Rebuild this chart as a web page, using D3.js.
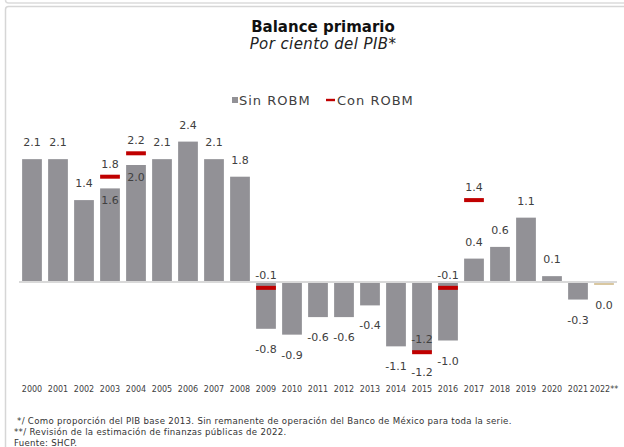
<!DOCTYPE html>
<html>
<head>
<meta charset="utf-8">
<script src="https://cdn.jsdelivr.net/npm/d3@7"></script>
<style>
  body { margin: 0; background: #fff; }
  svg { display: block; font-family: "DejaVu Sans", sans-serif; }
</style>
</head>
<body>
<svg id="chart" width="624" height="447"></svg>
<script>
// Primary balance, percent of GDP
const years = ["2000","2001","2002","2003","2004","2005","2006","2007","2008","2009","2010",
  "2011","2012","2013","2014","2015","2016","2017","2018","2019","2020","2021","2022**"];
// Without Banco de México operating surplus (bars)
const sinRobm = [2.1, 2.1, 1.4, 1.6, 2.0, 2.1, 2.4, 2.1, 1.8, -0.8, -0.9,
  -0.6, -0.6, -0.4, -1.1, -1.2, -1.0, 0.4, 0.6, 1.1, 0.1, -0.3, 0.0];
// With Banco de México operating surplus (red markers)
const conRobm = [null, null, null, 1.8, 2.2, null, null, null, null, -0.1, null,
  null, null, null, null, -1.2, -0.1, 1.4, null, null, null, null, null];
const legendLabels = ["Sin ROBM", "Con ROBM"];
const footnotes = [
  " */ Como proporción del PIB base 2013. Sin remanente de operación del Banco de México para toda la serie.",
  "**/ Revisión de la estimación de finanzas públicas de 2022.",
  "Fuente: SHCP."
];

const svg = d3.select("#chart");
const locale = d3.formatLocale({ decimal: ".", thousands: ",", grouping: [3], currency: ["$", ""], minus: "-" });
const fmt = locale.format(".1f");
const barColor = "#929196", estColor = "#d9c7a0", markColor = "#c00000", textColor = "#404040";

// frame
svg.append("rect").attr("x", 5.5).attr("y", -20).attr("width", 700).attr("height", 23)
  .attr("rx", 3).attr("fill", "none").attr("stroke", "#dcdcdc").attr("stroke-width", 1.5);
svg.append("rect").attr("x", 5.5).attr("y", 6.5).attr("width", 700).attr("height", 500)
  .attr("rx", 3).attr("fill", "#fff").attr("stroke", "#d6d6d6").attr("stroke-width", 1.5);

// titles
svg.append("text").attr("x", 323).attr("y", 31.5).attr("text-anchor", "middle")
  .attr("font-weight", "bold").attr("font-size", 15).attr("fill", "#111").text("Balance primario");
svg.append("text").attr("x", 323).attr("y", 49).attr("text-anchor", "middle")
  .attr("font-style", "italic").attr("font-size", 15).attr("letter-spacing", 0.4)
  .attr("fill", "#222").text("Por ciento del PIB*");

// legend
const lg = svg.append("g").attr("font-size", 13).attr("fill", textColor).attr("letter-spacing", 1);
lg.append("rect").attr("x", 232).attr("y", 97).attr("width", 6).attr("height", 6).attr("fill", barColor);
lg.append("text").attr("x", 239).attr("y", 104.5).text(legendLabels[0]);
lg.append("rect").attr("x", 326).attr("y", 98.8).attr("width", 9).attr("height", 2.4).attr("fill", markColor);
lg.append("text").attr("x", 337).attr("y", 104.5).text(legendLabels[1]);

// scales
const x = d3.scaleBand().domain(years).range([19, 617]).paddingInner(0.24).paddingOuter(0.12);
const y = d3.scaleLinear().domain([-1.5, 2.5]).range([369.75, 135.75]);
const y0 = y(0);

const data = years.map((yr, i) => ({ yr, sin: sinRobm[i], con: conRobm[i], est: yr.includes("*") }));

// bars
svg.append("g").selectAll("rect").data(data).join("rect")
  .attr("x", d => x(d.yr))
  .attr("width", x.bandwidth())
  .attr("y", d => d.sin > 0 ? y(d.sin) : y0)
  .attr("height", d => d.sin === 0 ? 3 : Math.abs(y(d.sin) - y0))
  .attr("fill", d => d.est ? estColor : barColor);

// zero line
svg.append("line").attr("x1", 19).attr("x2", 617).attr("y1", y0).attr("y2", y0)
  .attr("stroke", "#d9d9d9").attr("stroke-width", 2);

// markers
const withCon = data.filter(d => d.con !== null);
svg.append("g").selectAll("rect").data(withCon).join("rect")
  .attr("x", d => x(d.yr))
  .attr("width", x.bandwidth())
  .attr("y", d => y(d.con) - 2)
  .attr("height", 4)
  .attr("fill", markColor);

// value labels
const labels = svg.append("g").attr("font-size", 11).attr("fill", textColor).attr("text-anchor", "middle");
labels.selectAll("text.sin").data(data).join("text").attr("class", "sin")
  .attr("x", d => x(d.yr) + x.bandwidth() / 2)
  .attr("y", d => {
    if (d.sin > 0) {
      const inside = d.con !== null && d.con > d.sin && d.con - d.sin < 0.5;
      return inside ? y(d.sin) + 16 : y(d.sin) - 13;
    }
    const bottom = d.sin === 0 ? y0 + 3 : y(d.sin);
    return bottom + 24;
  })
  .text(d => fmt(d.sin));
labels.selectAll("text.con").data(withCon).join("text").attr("class", "con")
  .attr("x", d => x(d.yr) + x.bandwidth() / 2)
  .attr("y", d => y(d.con) - 9)
  .text(d => fmt(d.con));

// year axis
const axis = svg.append("g").attr("transform", "translate(0,392)")
  .call(d3.axisBottom(x).tickSize(0).tickPadding(0));
axis.select(".domain").remove();
axis.selectAll("text").attr("font-size", 8).attr("fill", textColor)
  .attr("font-family", "DejaVu Sans, sans-serif").attr("dy", 0);

// footnotes
svg.append("g").attr("font-size", 8.6).attr("letter-spacing", 0.3).attr("fill", "#333")
  .selectAll("text").data(footnotes).join("text")
  .attr("x", 14).attr("y", (d, i) => 424 + i * 10.8).attr("xml:space", "preserve").text(d => d);
</script>
</body>
</html>
